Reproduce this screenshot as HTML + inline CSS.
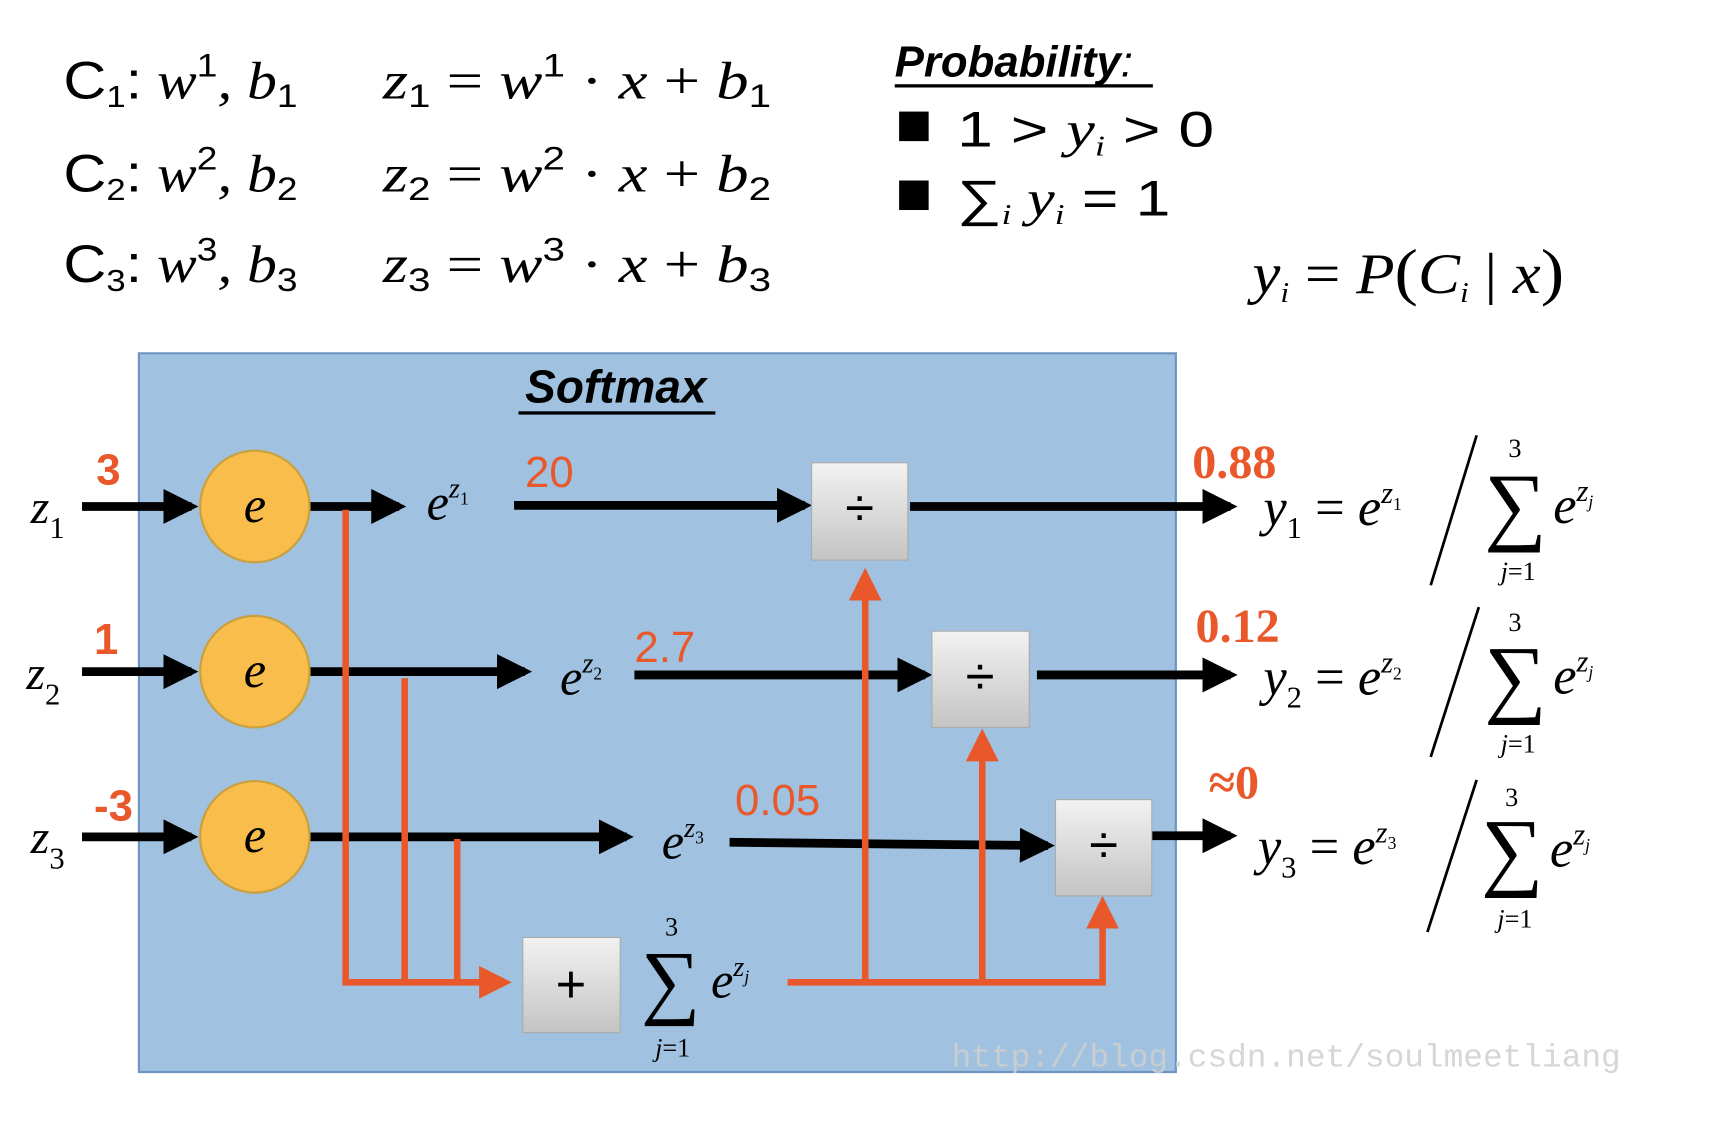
<!DOCTYPE html>
<html><head><meta charset="utf-8"><style>
html,body{margin:0;padding:0;background:#fff;}
svg{display:block;}
.m{font-family:"Liberation Sans",sans-serif;}
.t{font-family:"Liberation Serif",serif;font-style:italic;}
.r{font-family:"Liberation Serif",serif;}
.red{fill:#e9582b;}
</style></head><body>
<svg width="1714" height="1130" viewBox="0 0 1567 1033" preserveAspectRatio="none" xmlns="http://www.w3.org/2000/svg">
<defs>
<marker id="ab" markerWidth="4" markerHeight="4" refX="3.2" refY="2" orient="auto" markerUnits="strokeWidth"><path d="M0,0 L4,2 L0,4z" fill="#000"/></marker>
<marker id="ar" markerWidth="5" markerHeight="5" refX="4" refY="2.5" orient="auto" markerUnits="strokeWidth"><path d="M0,0 L5,2.5 L0,5z" fill="#e9582b"/></marker>
<linearGradient id="gb" x1="0" y1="0" x2="0" y2="1"><stop offset="0" stop-color="#f2f2f2"/><stop offset="1" stop-color="#c4c4c4"/></linearGradient>
</defs>

<g font-size="48" class="t">
<text x="58" y="90" textLength="214" lengthAdjust="spacingAndGlyphs"><tspan class="m" font-style="normal">C</tspan><tspan class="m" font-style="normal" font-size="28" dy="8">1</tspan><tspan dy="-8" class="m" font-style="normal">:</tspan> w<tspan font-size="30" dy="-20" class="m" font-style="normal">1</tspan><tspan dy="20">, b</tspan><tspan font-size="30" dy="8" class="m" font-style="normal">1</tspan></text>
<text x="58" y="175" textLength="214" lengthAdjust="spacingAndGlyphs"><tspan class="m" font-style="normal">C</tspan><tspan class="m" font-style="normal" font-size="28" dy="8">2</tspan><tspan dy="-8" class="m" font-style="normal">:</tspan> w<tspan font-size="30" dy="-20" class="m" font-style="normal">2</tspan><tspan dy="20">, b</tspan><tspan font-size="30" dy="8" class="m" font-style="normal">2</tspan></text>
<text x="58" y="258" textLength="214" lengthAdjust="spacingAndGlyphs"><tspan class="m" font-style="normal">C</tspan><tspan class="m" font-style="normal" font-size="28" dy="8">3</tspan><tspan dy="-8" class="m" font-style="normal">:</tspan> w<tspan font-size="30" dy="-20" class="m" font-style="normal">3</tspan><tspan dy="20">, b</tspan><tspan font-size="30" dy="8" class="m" font-style="normal">3</tspan></text>
</g>
<g font-size="48" class="t">
<text x="350" y="90" textLength="355" lengthAdjust="spacingAndGlyphs">z<tspan font-size="30" dy="8" class="m" font-style="normal">1</tspan><tspan dy="-8" font-style="normal"> = </tspan>w<tspan font-size="30" dy="-20" class="m" font-style="normal">1</tspan><tspan dy="20" font-style="normal"> · </tspan>x<tspan font-style="normal"> + </tspan>b<tspan font-size="30" dy="8" class="m" font-style="normal">1</tspan></text>
<text x="350" y="175" textLength="355" lengthAdjust="spacingAndGlyphs">z<tspan font-size="30" dy="8" class="m" font-style="normal">2</tspan><tspan dy="-8" font-style="normal"> = </tspan>w<tspan font-size="30" dy="-20" class="m" font-style="normal">2</tspan><tspan dy="20" font-style="normal"> · </tspan>x<tspan font-style="normal"> + </tspan>b<tspan font-size="30" dy="8" class="m" font-style="normal">2</tspan></text>
<text x="350" y="258" textLength="355" lengthAdjust="spacingAndGlyphs">z<tspan font-size="30" dy="8" class="m" font-style="normal">3</tspan><tspan dy="-8" font-style="normal"> = </tspan>w<tspan font-size="30" dy="-20" class="m" font-style="normal">3</tspan><tspan dy="20" font-style="normal"> · </tspan>x<tspan font-style="normal"> + </tspan>b<tspan font-size="30" dy="8" class="m" font-style="normal">3</tspan></text>
</g>

<g>
<text x="818" y="70" class="m" font-size="40" font-weight="bold" font-style="italic">Probability<tspan font-weight="normal">:</tspan></text>
<rect x="818" y="77" width="236" height="3" fill="#000"/>
<rect x="822" y="102" width="27" height="27" fill="#000"/>
<text x="875" y="134" font-size="46" class="m" textLength="235" lengthAdjust="spacingAndGlyphs">1 &gt; <tspan class="t">y</tspan><tspan font-size="26" dy="8" class="t">i</tspan><tspan dy="-8"> &gt; 0</tspan></text>
<rect x="822" y="165" width="27" height="27" fill="#000"/>
<text x="875" y="197" font-size="46" class="m" textLength="195" lengthAdjust="spacingAndGlyphs">∑<tspan font-size="26" dy="8" class="t">i</tspan><tspan dy="-8" class="t"> y</tspan><tspan font-size="26" dy="8" class="t">i</tspan><tspan dy="-8"> = 1</tspan></text>
<text x="1145" y="268" font-size="52" class="t" textLength="285" lengthAdjust="spacingAndGlyphs">y<tspan font-size="26" dy="8">i</tspan><tspan dy="-8" font-style="normal"> = </tspan>P<tspan font-style="normal" font-size="58">(</tspan>C<tspan font-size="26" dy="8">i</tspan><tspan dy="-8" font-style="normal"> | </tspan>x<tspan font-style="normal" font-size="58">)</tspan></text>
</g>

<rect x="127" y="323" width="948" height="657" fill="#a0c2e0" stroke="#6d95c2" stroke-width="2"/>
<text x="563" y="368" text-anchor="middle" class="m" font-size="42" font-weight="bold" font-style="italic">Softmax</text>
<rect x="474" y="376" width="180" height="3" fill="#000"/>

<g class="t" font-size="44">
<text x="28" y="478">z<tspan font-size="28" dy="14" font-style="normal">1</tspan></text>
<text x="24" y="630">z<tspan font-size="28" dy="14" font-style="normal">2</tspan></text>
<text x="28" y="780">z<tspan font-size="28" dy="14" font-style="normal">3</tspan></text>
</g>
<g class="m red" font-size="40" font-weight="bold">
<text x="88" y="443">3</text><text x="86" y="598">1</text><text x="86" y="750">-3</text>
</g>
<g stroke="#000" stroke-width="8" fill="none">
<line x1="75" y1="463" x2="175" y2="463" marker-end="url(#ab)"/>
<line x1="75" y1="614" x2="175" y2="614" marker-end="url(#ab)"/>
<line x1="75" y1="765" x2="175" y2="765" marker-end="url(#ab)"/>
<line x1="283" y1="463" x2="365" y2="463" marker-end="url(#ab)"/>
<line x1="283" y1="614" x2="480" y2="614" marker-end="url(#ab)"/>
<line x1="283" y1="765" x2="573" y2="765" marker-end="url(#ab)"/>
<line x1="470" y1="462" x2="736" y2="462" marker-end="url(#ab)"/>
<line x1="580" y1="617" x2="846" y2="617" marker-end="url(#ab)"/>
<line x1="667" y1="770" x2="958" y2="773" marker-end="url(#ab)"/>
<line x1="832" y1="463" x2="1125" y2="463" marker-end="url(#ab)"/>
<line x1="948" y1="617" x2="1125" y2="617" marker-end="url(#ab)"/>
<line x1="1053" y1="764" x2="1125" y2="764" marker-end="url(#ab)"/>
</g>
<g>
<ellipse cx="233" cy="463" rx="50" ry="51" fill="#f8bd4a" stroke="#c9a040" stroke-width="2"/>
<ellipse cx="233" cy="614" rx="50" ry="51" fill="#f8bd4a" stroke="#c9a040" stroke-width="2"/>
<ellipse cx="233" cy="765" rx="50" ry="51" fill="#f8bd4a" stroke="#c9a040" stroke-width="2"/>
<g class="t" font-size="46" text-anchor="middle"><text x="233" y="477">e</text><text x="233" y="628">e</text><text x="233" y="779">e</text></g>
</g>
<g class="t" font-size="46">
<text x="390" y="475">e<tspan font-size="26" dy="-20">z</tspan><tspan font-size="16" dy="6" font-style="normal">1</tspan></text>
<text x="512" y="635">e<tspan font-size="26" dy="-20">z</tspan><tspan font-size="16" dy="6" font-style="normal">2</tspan></text>
<text x="605" y="785">e<tspan font-size="26" dy="-20">z</tspan><tspan font-size="16" dy="6" font-style="normal">3</tspan></text>
</g>
<g class="m red" font-size="40"><text x="480" y="445">20</text><text x="580" y="605">2.7</text><text x="672" y="745">0.05</text></g>

<g stroke="#e9582b" stroke-width="6" fill="none">
<line x1="316" y1="466" x2="316" y2="898"/>
<line x1="370" y1="620" x2="370" y2="898"/>
<line x1="418" y1="767" x2="418" y2="898"/>
<line x1="313" y1="898" x2="462" y2="898" marker-end="url(#ar)"/>
<line x1="720" y1="898" x2="1011" y2="898"/>
<line x1="791" y1="898" x2="791" y2="525" marker-end="url(#ar)"/>
<line x1="898" y1="898" x2="898" y2="672" marker-end="url(#ar)"/>
<line x1="1008" y1="898" x2="1008" y2="825" marker-end="url(#ar)"/>
</g>

<g>
<rect x="742" y="423" width="88" height="89" fill="url(#gb)" stroke="#aaa"/>
<rect x="852" y="577" width="89" height="88" fill="url(#gb)" stroke="#aaa"/>
<rect x="965" y="731" width="88" height="88" fill="url(#gb)" stroke="#aaa"/>
<rect x="478" y="857" width="89" height="87" fill="url(#gb)" stroke="#aaa"/>
<g class="m" font-size="48" text-anchor="middle"><text x="786" y="481">÷</text><text x="896" y="635">÷</text><text x="1009" y="789">÷</text><text x="522" y="916">+</text></g>
</g>
<g class="r">
<text x="614" y="855" font-size="24" text-anchor="middle">3</text>
<text x="586" y="922" font-size="76">∑</text>
<text x="650" y="912" font-size="46" font-style="italic">e<tspan font-size="26" dy="-20">z</tspan><tspan font-size="16" dy="6">j</tspan></text>
<text x="615" y="966" font-size="24" text-anchor="middle" font-style="italic">j<tspan font-style="normal">=1</tspan></text>
</g>

<g class="r red" font-size="44" font-weight="bold">
<text x="1090" y="437">0.88</text><text x="1093" y="587">0.12</text><text x="1105" y="730">≈0</text>
</g>
<g class="t" font-size="48">
<text x="1155" y="480">y<tspan font-size="28" dy="12" font-style="normal">1</tspan><tspan dy="-12" font-style="normal"> = </tspan>e<tspan font-size="28" dy="-20">z</tspan><tspan font-size="16" dy="6" font-style="normal">1</tspan></text>
<line x1="1350" y1="398" x2="1308" y2="535" stroke="#000" stroke-width="2.5"/>
<text x="1385" y="418" font-size="24" text-anchor="middle" font-style="normal">3</text>
<text x="1357" y="488" font-size="80" font-style="normal">∑</text>
<text x="1420" y="478">e<tspan font-size="28" dy="-20">z</tspan><tspan font-size="16" dy="6">j</tspan></text>
<text x="1388" y="530" font-size="24" text-anchor="middle">j<tspan font-style="normal">=1</tspan></text>

<text x="1155" y="635">y<tspan font-size="28" dy="12" font-style="normal">2</tspan><tspan dy="-12" font-style="normal"> = </tspan>e<tspan font-size="28" dy="-20">z</tspan><tspan font-size="16" dy="6" font-style="normal">2</tspan></text>
<line x1="1352" y1="555" x2="1308" y2="692" stroke="#000" stroke-width="2.5"/>
<text x="1385" y="577" font-size="24" text-anchor="middle" font-style="normal">3</text>
<text x="1357" y="646" font-size="80" font-style="normal">∑</text>
<text x="1420" y="634">e<tspan font-size="28" dy="-20">z</tspan><tspan font-size="16" dy="6">j</tspan></text>
<text x="1388" y="688" font-size="24" text-anchor="middle">j<tspan font-style="normal">=1</tspan></text>

<text x="1150" y="790">y<tspan font-size="28" dy="12" font-style="normal">3</tspan><tspan dy="-12" font-style="normal"> = </tspan>e<tspan font-size="28" dy="-20">z</tspan><tspan font-size="16" dy="6" font-style="normal">3</tspan></text>
<line x1="1350" y1="713" x2="1305" y2="852" stroke="#000" stroke-width="2.5"/>
<text x="1382" y="737" font-size="24" text-anchor="middle" font-style="normal">3</text>
<text x="1354" y="804" font-size="80" font-style="normal">∑</text>
<text x="1417" y="792">e<tspan font-size="28" dy="-20">z</tspan><tspan font-size="16" dy="6">j</tspan></text>
<text x="1385" y="848" font-size="24" text-anchor="middle">j<tspan font-style="normal">=1</tspan></text>
</g>

<text x="870" y="975" font-family="Liberation Mono, monospace" font-size="30" fill="#cfcfcf" opacity="0.85">http://blog.csdn.net/soulmeetliang</text>
</svg>
</body></html>
